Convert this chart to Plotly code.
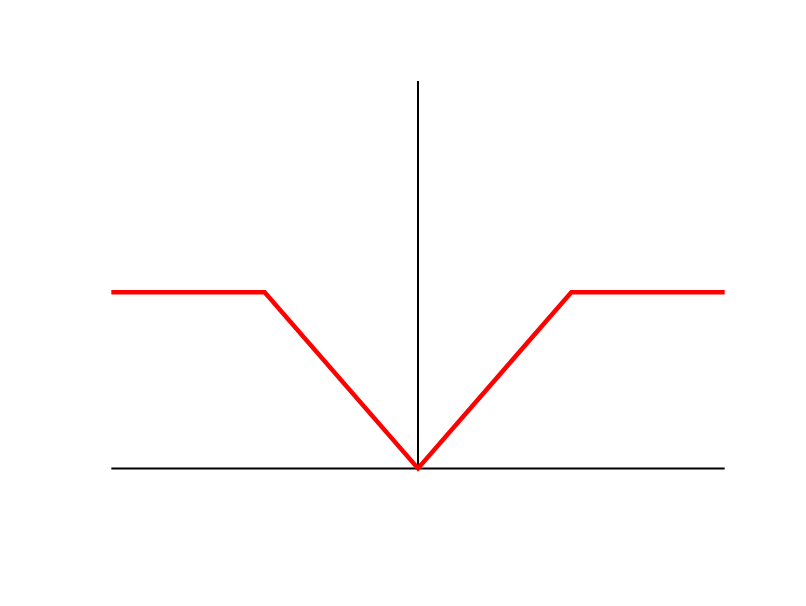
import plotly.graph_objects as go

# piecewise function: flat at 1 outside [-1, 1], |x| inside
x_vals = [-2, -1, 0, 1, 2]
y_vals = [1, 1, 0, 1, 1]

# extent of the drawn axes
x_span = [-2, 2]
y_top = 2.2

fig = go.Figure()
fig.add_trace(go.Scatter(x=x_vals, y=y_vals, mode="lines",
                         line=dict(color="red", width=4.5), showlegend=False))

# axes through the origin, drawn as shapes below the trace
fig.add_shape(type="line", xref="x", yref="y", x0=x_span[0], x1=x_span[1], y0=0, y1=0,
              line=dict(color="black", width=2), layer="below")
fig.add_shape(type="line", xref="x", yref="y", x0=0, x1=0, y0=0, y1=y_top,
              line=dict(color="black", width=2), layer="below")

fig.update_xaxes(range=[-2.1, 2.1], visible=False)
fig.update_yaxes(range=[-0.1, y_top], visible=False)
fig.update_layout(width=806, height=606, plot_bgcolor="white", paper_bgcolor="white",
                  margin=dict(l=88, r=74, t=73, b=128))

fig.write_html("out.html")
